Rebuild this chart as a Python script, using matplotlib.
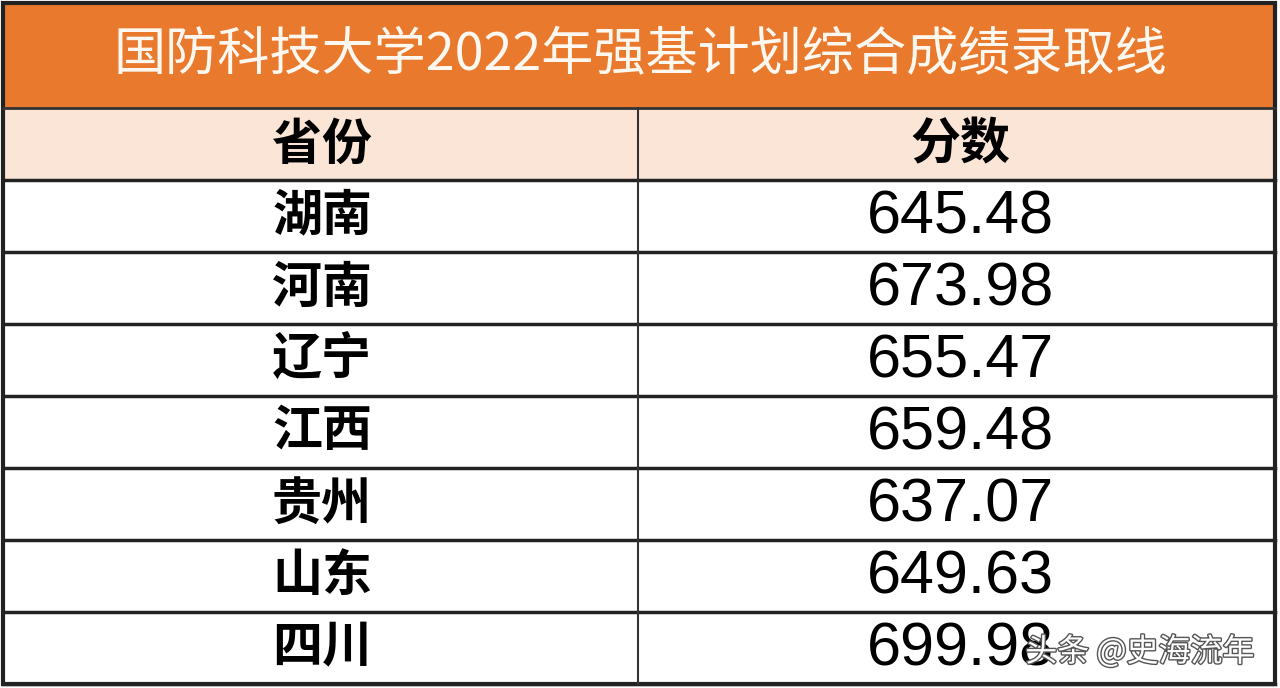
import matplotlib.pyplot as plt
import matplotlib.patheffects as pe
from matplotlib.patches import Rectangle

plt.rcParams['font.family'] = ['Noto Sans CJK SC', 'DejaVu Sans']

title = "国防科技大学2022年强基计划综合成绩录取线"
headers = ["省份", "分数"]
provinces = ["湖南", "河南", "辽宁", "江西", "贵州", "山东", "四川"]
scores = ["645.48", "673.98", "655.47", "659.48", "637.07", "649.63", "699.98"]

fig = plt.figure(figsize=(12.8, 6.88), dpi=100)
ax = fig.add_axes([0, 0, 1, 1])
ax.set_xlim(0, 1280)
ax.set_ylim(688, 0)
ax.axis('off')

left, right, mid = 3, 1275, 638
top_band, head_top, head_bot = 3, 108, 180
row_h = (684 - head_bot) / len(provinces)

# title band
ax.add_patch(Rectangle((left, top_band), right - left, head_top - top_band,
                       facecolor='#E9792D', edgecolor='none'))
ax.text(640, 56, title, color='#FFF8F0', fontsize=37.5, fontweight='medium',
        ha='center', va='center')

# header row
ax.add_patch(Rectangle((left, head_top), right - left, head_bot - head_top,
                       facecolor='#FBE5D6', edgecolor='none'))
ax.text(322, 145, headers[0], fontsize=36, fontweight='bold', ha='center', va='center')
ax.text(960, 145, headers[1], fontsize=36, fontweight='bold', ha='center', va='center')

for i, (p, s) in enumerate(zip(provinces, scores)):
    yc = head_bot + row_h * (i + 0.5)
    ax.text(322, yc, p, fontsize=36, fontweight='bold', ha='center', va='center')
    ax.text(960, yc + 2, s, fontsize=44, family='Liberation Sans', ha='center', va='center')

# grid lines
for i in range(len(provinces) + 1):
    y = head_bot + row_h * i
    ax.plot([left, right], [y, y], color='#222222', lw=2.5)
ax.plot([left, right], [head_top, head_top], color='#333333', lw=2)
ax.plot([mid, mid], [head_top, 684], color='#333333', lw=1.5)
ax.add_patch(Rectangle((left, top_band), right - left, 684 - top_band,
                       facecolor='none', edgecolor='#222222', lw=3))

# watermark (overlaps the last score, as in the source image)
ax.text(1140, 652, "头条 @史海流年", fontsize=23, color='white', ha='center', va='center',
        path_effects=[pe.withStroke(linewidth=2, foreground='#555555')])

fig.savefig("out.png", dpi=100)
